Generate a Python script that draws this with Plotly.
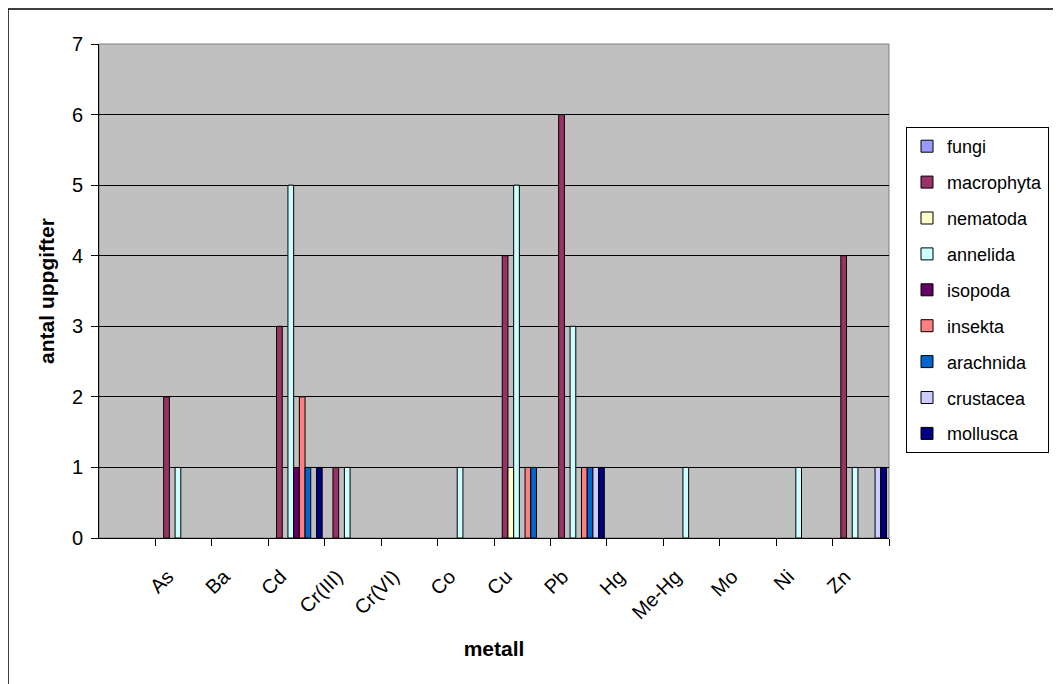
import plotly.graph_objects as go

metals = ["As", "Ba", "Cd", "Cr(III)", "Cr(VI)", "Co", "Cu", "Pb", "Hg", "Me-Hg", "Mo", "Ni", "Zn"]

fungi      = [None, None, None, None, None, None, None, None, None, None, None, None, None]
macrophyta = [2, None, 3, 1, None, None, 4, 6, None, None, None, None, 4]
nematoda   = [None, None, None, None, None, None, 1, None, None, None, None, None, None]
annelida   = [1, None, 5, 1, None, 1, 5, 3, None, 1, None, 1, 1]
isopoda    = [None, None, 1, None, None, None, None, None, None, None, None, None, None]
insekta    = [None, None, 2, None, None, None, 1, 1, None, None, None, None, None]
arachnida  = [None, None, 1, None, None, None, 1, 1, None, None, None, None, None]
crustacea  = [None, None, None, None, None, None, None, 1, None, None, None, None, 1]
mollusca   = [None, None, 1, None, None, None, None, 1, None, None, None, None, 1]

series = [
    ("fungi", fungi, "#9999FF"),
    ("macrophyta", macrophyta, "#993366"),
    ("nematoda", nematoda, "#FFFFCC"),
    ("annelida", annelida, "#CCFFFF"),
    ("isopoda", isopoda, "#660066"),
    ("insekta", insekta, "#FF8080"),
    ("arachnida", arachnida, "#0066CC"),
    ("crustacea", crustacea, "#CCCCFF"),
    ("mollusca", mollusca, "#000080"),
]

FONT = "Liberation Sans, Arial, sans-serif"

fig = go.Figure()
for name, vals, color in series:
    fig.add_trace(go.Bar(
        name=name, x=metals, y=vals,
        marker=dict(color=color, line=dict(color="black", width=1)),
        legendgroup=name,
    ))

OFF = 8  # page body margin
# plot area in screen pixels
L, R, T, B = 99 - OFF, 889 - OFF, 44 - OFF, 538 - OFF
W, H = 1061, 684
pw, ph = R - L, B - T

def px(xs):
    return (xs - OFF - L) / pw

def py(ys):
    return (B - (ys - OFF)) / ph

fig.update_layout(
    width=W, height=H,
    margin=dict(l=L, r=W - R, t=T, b=H - B, autoexpand=False),
    paper_bgcolor="white",
    plot_bgcolor="#C0C0C0",
    barmode="group",
    bargap=0.09,
    bargroupgap=0,
    font=dict(family=FONT, size=20, color="black"),
    showlegend=True,
    legend=dict(
        x=px(906), y=py(127), xanchor="left", yanchor="top",
        bgcolor="white", bordercolor="black", borderwidth=1,
        font=dict(family=FONT, size=18, color="black"),
        tracegroupgap=9.5,
        itemwidth=30,
    ),
    xaxis=dict(
        type="category",
        categoryorder="array", categoryarray=metals,
        range=[-1.5, len(metals) - 0.5],
        tickson="boundaries",
        ticks="outside", ticklen=7, tickcolor="black",
        showline=True, linecolor="black", linewidth=1,
        showgrid=False,
        tickangle=-45,
        tickfont=dict(family=FONT, size=20),
        ticklabelshift=-16,
        ticklabelstandoff=18,
        title=dict(text="<b>metall</b>", font=dict(family=FONT, size=21), standoff=18),
    ),
    yaxis=dict(
        range=[0, 7], dtick=1, tick0=0,
        ticks="outside", ticklen=7, tickcolor="black",
        showline=True, linecolor="black", linewidth=1,
        showgrid=True, gridcolor="black", gridwidth=1,
        zeroline=False,
        tickfont=dict(family=FONT, size=20),
        ticklabelstandoff=4,
        title=dict(text="<b>antal uppgifter</b>", font=dict(family=FONT, size=21), standoff=11),
    ),
    shapes=[
        dict(type="rect", xref="x domain", yref="y domain", x0=0, x1=1, y0=0, y1=1,
             line=dict(color="#808080", width=1), layer="below"),
        dict(type="rect", xref="paper", yref="paper",
             x0=px(8), x1=px(1075), y0=py(700), y1=py(9),
             line=dict(color="black", width=1.5)),
    ],
)

fig.write_html("out.html")
